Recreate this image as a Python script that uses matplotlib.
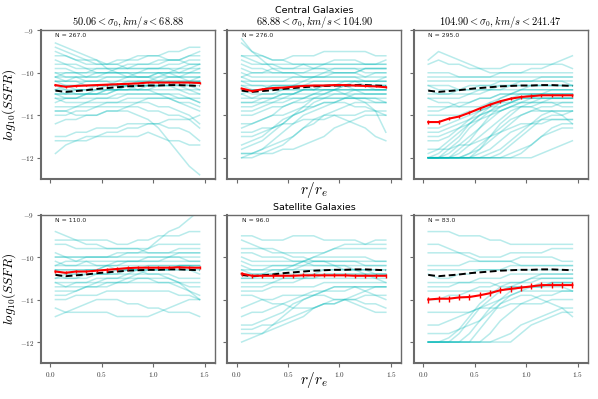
import matplotlib
matplotlib.use("Agg")
import matplotlib.pyplot as plt
import numpy as np

plt.rcParams['mathtext.fontset'] = 'cm'

r_bins = [0.05, 0.15, 0.25, 0.35, 0.45, 0.55, 0.65, 0.75, 0.85, 0.95, 1.05, 1.15, 1.25, 1.35, 1.45]

col_titles = [r'$50.06 < \sigma_0, km/s < 68.88$',
              r'$68.88 < \sigma_0, km/s < 104.90$',
              r'$104.90 < \sigma_0, km/s < 241.47$']
row_titles = ['Central Galaxies', 'Satellite Galaxies']
n_counts = [[267.0, 276.0, 295.0], [110.0, 96.0, 83.0]]

x_ticks = [0.0, 0.5, 1.0, 1.5]
x_ticklabels = [r'$0.0$', r'$0.5$', r'$1.0$', r'$1.5$']
y_ticks = [-12, -11, -10, -9]
y_ticklabels = [r'$-12$', r'$-11$', r'$-10$', r'$-9$']

# reference (whole sample) median profile, dashed black
ref_profile = [-10.42, -10.45, -10.43, -10.41, -10.38, -10.36, -10.34, -10.32,
               -10.31, -10.30, -10.30, -10.29, -10.29, -10.30, -10.31]

# median profiles of each bin (red) and their errors
median_cen_low = [-10.29, -10.33, -10.31, -10.30, -10.29, -10.28, -10.27, -10.26,
                  -10.25, -10.23, -10.23, -10.23, -10.23, -10.23, -10.24]
median_cen_mid = [-10.37, -10.43, -10.39, -10.36, -10.35, -10.33, -10.31, -10.30,
                  -10.30, -10.29, -10.29, -10.30, -10.31, -10.32, -10.34]
median_cen_high = [-11.16, -11.16, -11.08, -11.03, -10.94, -10.84, -10.75, -10.67,
                   -10.61, -10.57, -10.55, -10.53, -10.53, -10.53, -10.53]
median_sat_low = [-10.34, -10.37, -10.34, -10.34, -10.32, -10.30, -10.28, -10.26,
                  -10.25, -10.25, -10.25, -10.25, -10.24, -10.25, -10.25]
median_sat_mid = [-10.39, -10.44, -10.44, -10.44, -10.44, -10.44, -10.43, -10.43,
                  -10.43, -10.43, -10.43, -10.44, -10.44, -10.44, -10.44]
median_sat_high = [-11.00, -10.98, -10.98, -10.95, -10.94, -10.90, -10.85, -10.78,
                   -10.75, -10.72, -10.69, -10.66, -10.66, -10.66, -10.66]
err_cen_low = 0.02
err_cen_mid = 0.02
err_cen_high = 0.04
err_sat_low = 0.04
err_sat_mid = 0.05
err_sat_high = 0.07

# individual galaxy profiles (a representative subset)
prof_cen_low = [
    [-9.4, -9.5, -9.6, -9.7, -9.8, -9.8, -9.8, -9.7, -9.7, -9.6, -9.6, -9.5, -9.5, -9.4, -9.4],
    [-9.6, -9.6, -9.7, -9.7, -9.7, -9.8, -9.8, -9.9, -9.9, -9.9, -9.9, -9.8, -9.8, -9.7, -9.7],
    [-9.8, -9.8, -9.9, -9.9, -10.0, -10.0, -10.0, -10.0, -10.0, -9.9, -9.9, -9.9, -9.9, -9.8, -9.8],
    [-10.0, -10.0, -10.0, -10.1, -10.1, -10.1, -10.1, -10.1, -10.0, -10.0, -10.0, -10.0, -10.1, -10.1, -10.1],
    [-10.1, -10.2, -10.2, -10.2, -10.2, -10.1, -10.1, -10.1, -10.1, -10.1, -10.1, -10.0, -10.0, -10.0, -9.9],
    [-10.2, -10.3, -10.3, -10.3, -10.3, -10.3, -10.2, -10.2, -10.2, -10.2, -10.2, -10.2, -10.2, -10.2, -10.2],
    [-10.3, -10.4, -10.4, -10.4, -10.3, -10.3, -10.3, -10.3, -10.3, -10.3, -10.2, -10.2, -10.2, -10.3, -10.3],
    [-10.4, -10.5, -10.5, -10.5, -10.4, -10.4, -10.4, -10.3, -10.3, -10.3, -10.3, -10.3, -10.4, -10.4, -10.5],
    [-10.5, -10.6, -10.6, -10.5, -10.5, -10.5, -10.4, -10.4, -10.4, -10.4, -10.4, -10.4, -10.4, -10.5, -10.5],
    [-10.6, -10.7, -10.7, -10.7, -10.6, -10.6, -10.6, -10.5, -10.5, -10.5, -10.5, -10.6, -10.6, -10.6, -10.7],
    [-10.8, -10.8, -10.8, -10.7, -10.7, -10.7, -10.7, -10.6, -10.6, -10.6, -10.6, -10.6, -10.7, -10.8, -10.9],
    [-11.0, -11.0, -10.9, -10.9, -10.8, -10.8, -10.8, -10.8, -10.7, -10.7, -10.8, -10.8, -10.9, -11.0, -11.2],
    [-11.5, -11.5, -11.4, -11.4, -11.3, -11.3, -11.3, -11.2, -11.2, -11.2, -11.2, -11.1, -11.1, -11.1, -11.0],
    [-11.9, -11.7, -11.6, -11.5, -11.5, -11.4, -11.4, -11.3, -11.3, -11.2, -11.2, -11.3, -11.3, -11.4, -11.6],
    [-11.6, -11.6, -11.6, -11.6, -11.5, -11.5, -11.5, -11.5, -11.5, -11.4, -11.5, -11.6, -11.6, -11.7, -11.7],
    [-10.9, -10.9, -11.0, -11.0, -11.0, -10.9, -10.9, -10.9, -11.0, -11.1, -11.3, -11.6, -11.9, -12.2, -12.4],
    [-9.3, -9.4, -9.5, -9.6, -9.7, -9.9, -10.0, -10.1, -10.1, -10.1, -10.0, -10.0, -9.9, -9.9, -9.8],
    [-10.1, -10.0, -10.0, -10.0, -9.9, -9.9, -9.9, -9.9, -9.8, -9.8, -9.8, -9.7, -9.7, -9.6, -9.6],
    [-10.4, -10.3, -10.3, -10.2, -10.2, -10.2, -10.3, -10.3, -10.4, -10.4, -10.5, -10.5, -10.6, -10.6, -10.7],
    [-10.7, -10.6, -10.6, -10.5, -10.5, -10.4, -10.4, -10.4, -10.3, -10.3, -10.3, -10.2, -10.2, -10.2, -10.1],
    [-10.2, -10.2, -10.1, -10.1, -10.0, -10.0, -10.0, -10.0, -10.1, -10.1, -10.2, -10.2, -10.3, -10.3, -10.4],
    [-10.5, -10.5, -10.4, -10.4, -10.4, -10.3, -10.3, -10.2, -10.2, -10.2, -10.1, -10.1, -10.1, -10.0, -10.0],
    [-11.2, -11.1, -11.1, -11.0, -11.0, -10.9, -10.9, -10.8, -10.8, -10.9, -10.9, -11.0, -11.0, -11.1, -11.3],
    [-9.7, -9.8, -9.8, -9.9, -9.9, -9.9, -9.9, -9.8, -9.8, -9.8, -9.7, -9.7, -9.7, -9.6, -9.5],
    [-9.9, -9.9, -10.0, -10.0, -10.0, -10.0, -9.9, -9.9, -9.9, -9.9, -9.9, -9.9, -10.0, -10.0, -10.0],
    [-10.0, -10.1, -10.1, -10.2, -10.2, -10.2, -10.2, -10.1, -10.1, -10.1, -10.0, -10.0, -10.0, -9.9, -9.9],
    [-10.2, -10.2, -10.2, -10.3, -10.3, -10.3, -10.3, -10.3, -10.2, -10.2, -10.2, -10.1, -10.1, -10.1, -10.1],
    [-10.3, -10.3, -10.4, -10.4, -10.4, -10.4, -10.4, -10.3, -10.3, -10.3, -10.3, -10.3, -10.3, -10.4, -10.4],
    [-10.5, -10.5, -10.5, -10.5, -10.5, -10.4, -10.4, -10.4, -10.4, -10.3, -10.3, -10.3, -10.3, -10.3, -10.2],
    [-10.6, -10.6, -10.6, -10.6, -10.6, -10.6, -10.5, -10.5, -10.5, -10.5, -10.5, -10.5, -10.5, -10.6, -10.6],
    [-9.5, -9.6, -9.7, -9.8, -9.8, -9.8, -9.7, -9.7, -9.6, -9.6, -9.6, -9.7, -9.7, -9.8, -9.8],
    [-10.9, -10.9, -10.8, -10.8, -10.8, -10.7, -10.7, -10.7, -10.7, -10.6, -10.6, -10.6, -10.7, -10.7, -10.8],
    [-10.1, -10.1, -10.1, -10.1, -10.1, -10.0, -10.0, -10.0, -10.0, -10.0, -10.0, -10.1, -10.1, -10.2, -10.2],
    [-10.4, -10.4, -10.5, -10.5, -10.5, -10.5, -10.4, -10.4, -10.4, -10.4, -10.3, -10.3, -10.2, -10.2, -10.2],
]
prof_cen_mid = [
    [-9.3, -9.5, -9.6, -9.7, -9.7, -9.6, -9.6, -9.6, -9.5, -9.5, -9.5, -9.5, -9.5, -9.6, -9.6],
    [-9.6, -9.7, -9.8, -9.8, -9.8, -9.8, -9.8, -9.8, -9.8, -9.7, -9.7, -9.7, -9.8, -9.8, -9.8],
    [-9.8, -9.9, -9.9, -10.0, -10.0, -10.0, -10.0, -9.9, -9.9, -9.9, -9.9, -9.9, -10.0, -10.0, -10.0],
    [-10.0, -10.1, -10.1, -10.1, -10.1, -10.1, -10.1, -10.1, -10.0, -10.0, -10.0, -10.0, -10.1, -10.1, -10.1],
    [-10.2, -10.2, -10.2, -10.2, -10.2, -10.2, -10.2, -10.1, -10.1, -10.1, -10.1, -10.1, -10.2, -10.2, -10.2],
    [-10.3, -10.4, -10.4, -10.3, -10.3, -10.3, -10.3, -10.2, -10.2, -10.2, -10.2, -10.2, -10.3, -10.3, -10.3],
    [-10.4, -10.5, -10.5, -10.5, -10.4, -10.4, -10.4, -10.3, -10.3, -10.3, -10.3, -10.4, -10.4, -10.4, -10.4],
    [-10.6, -10.6, -10.6, -10.6, -10.5, -10.5, -10.5, -10.5, -10.4, -10.4, -10.4, -10.4, -10.5, -10.5, -10.5],
    [-10.8, -10.8, -10.7, -10.7, -10.7, -10.6, -10.6, -10.6, -10.6, -10.6, -10.6, -10.6, -10.6, -10.6, -10.7],
    [-11.5, -11.5, -11.4, -11.3, -11.1, -11.0, -10.9, -10.8, -10.7, -10.7, -10.6, -10.6, -10.6, -10.6, -10.6],
    [-11.9, -11.9, -11.8, -11.7, -11.6, -11.5, -11.3, -11.1, -11.0, -10.9, -10.8, -10.7, -10.7, -10.7, -10.7],
    [-12.0, -12.0, -11.9, -11.9, -11.8, -11.8, -11.7, -11.6, -11.5, -11.3, -11.2, -11.1, -11.0, -11.0, -11.0],
    [-11.2, -11.2, -11.1, -11.0, -11.0, -10.9, -10.8, -10.8, -10.7, -10.7, -10.7, -10.8, -10.8, -10.9, -11.0],
    [-11.7, -11.6, -11.5, -11.3, -11.2, -11.0, -10.8, -10.6, -10.5, -10.4, -10.3, -10.3, -10.3, -10.3, -10.3],
    [-11.9, -11.9, -11.9, -11.8, -11.7, -11.5, -11.3, -11.2, -11.0, -11.0, -11.1, -11.2, -11.3, -11.5, -11.6],
    [-9.2, -9.5, -9.7, -9.9, -10.0, -10.0, -10.1, -10.1, -10.1, -10.0, -10.0, -10.0, -9.9, -9.9, -9.9],
    [-10.1, -10.0, -10.0, -9.9, -9.9, -9.9, -9.8, -9.8, -9.8, -9.8, -9.8, -9.8, -9.8, -9.8, -9.7],
    [-10.5, -10.4, -10.4, -10.3, -10.3, -10.3, -10.3, -10.4, -10.4, -10.4, -10.5, -10.6, -10.7, -10.9, -11.4],
    [-10.9, -10.9, -10.8, -10.7, -10.6, -10.5, -10.4, -10.4, -10.3, -10.3, -10.2, -10.2, -10.2, -10.2, -10.2],
    [-11.4, -11.4, -11.3, -11.3, -11.2, -11.2, -11.1, -11.1, -11.1, -11.0, -11.0, -11.0, -10.9, -10.9, -10.9],
    [-12.0, -11.9, -11.8, -11.6, -11.4, -11.2, -11.0, -10.9, -10.8, -10.7, -10.6, -10.5, -10.5, -10.5, -10.5],
    [-10.2, -10.3, -10.3, -10.4, -10.4, -10.4, -10.4, -10.4, -10.3, -10.3, -10.3, -10.2, -10.2, -10.2, -10.1],
    [-9.6, -9.6, -9.6, -9.7, -9.7, -9.8, -9.8, -9.9, -9.9, -10.0, -10.0, -10.0, -9.9, -9.9, -9.9],
    [-10.7, -10.7, -10.6, -10.6, -10.5, -10.5, -10.4, -10.4, -10.4, -10.4, -10.3, -10.3, -10.3, -10.3, -10.3],
    [-9.9, -10.0, -10.0, -10.0, -10.0, -10.0, -10.0, -10.0, -10.0, -9.9, -9.9, -9.9, -9.9, -9.9, -9.9],
    [-10.1, -10.2, -10.2, -10.2, -10.2, -10.1, -10.1, -10.1, -10.1, -10.1, -10.1, -10.1, -10.1, -10.0, -10.0],
    [-10.3, -10.3, -10.3, -10.3, -10.3, -10.3, -10.2, -10.2, -10.2, -10.2, -10.2, -10.2, -10.2, -10.2, -10.2],
    [-10.4, -10.4, -10.4, -10.4, -10.4, -10.3, -10.3, -10.3, -10.3, -10.3, -10.3, -10.3, -10.3, -10.4, -10.4],
    [-10.5, -10.6, -10.5, -10.5, -10.5, -10.5, -10.4, -10.4, -10.4, -10.4, -10.4, -10.4, -10.4, -10.4, -10.4],
    [-10.7, -10.7, -10.7, -10.6, -10.6, -10.6, -10.6, -10.5, -10.5, -10.5, -10.5, -10.5, -10.5, -10.5, -10.5],
    [-11.8, -11.7, -11.6, -11.4, -11.2, -11.0, -10.9, -10.7, -10.6, -10.5, -10.5, -10.4, -10.4, -10.4, -10.4],
    [-11.3, -11.2, -11.1, -11.0, -10.8, -10.7, -10.6, -10.5, -10.5, -10.4, -10.4, -10.4, -10.4, -10.4, -10.4],
    [-9.7, -9.8, -9.8, -9.8, -9.9, -9.9, -9.9, -9.9, -9.8, -9.8, -9.8, -9.8, -9.8, -9.8, -9.8],
    [-11.0, -11.0, -10.9, -10.8, -10.8, -10.7, -10.7, -10.6, -10.6, -10.6, -10.6, -10.6, -10.6, -10.7, -10.7],
]
prof_cen_high = [
    [-9.8, -9.7, -9.8, -9.8, -9.9, -9.9, -9.9, -9.9, -9.8, -9.8, -9.8, -9.8, -9.8, -9.8, -9.9],
    [-10.0, -10.0, -10.0, -10.1, -10.1, -10.1, -10.1, -10.0, -10.0, -10.0, -10.0, -10.0, -10.0, -10.0, -10.0],
    [-10.2, -10.2, -10.2, -10.2, -10.2, -10.2, -10.2, -10.2, -10.2, -10.2, -10.2, -10.2, -10.2, -10.2, -10.2],
    [-10.4, -10.5, -10.5, -10.4, -10.4, -10.3, -10.3, -10.3, -10.3, -10.3, -10.3, -10.3, -10.3, -10.3, -10.3],
    [-10.6, -10.6, -10.6, -10.6, -10.5, -10.5, -10.4, -10.4, -10.4, -10.4, -10.4, -10.4, -10.4, -10.4, -10.4],
    [-10.9, -10.9, -10.8, -10.8, -10.7, -10.6, -10.6, -10.5, -10.5, -10.5, -10.5, -10.5, -10.5, -10.5, -10.5],
    [-11.3, -11.3, -11.2, -11.1, -11.0, -10.9, -10.8, -10.7, -10.6, -10.6, -10.6, -10.6, -10.6, -10.6, -10.6],
    [-12.0, -12.0, -11.9, -11.7, -11.5, -11.3, -11.1, -10.9, -10.8, -10.7, -10.6, -10.6, -10.6, -10.6, -10.6],
    [-12.0, -12.0, -12.0, -12.0, -11.9, -11.8, -11.6, -11.4, -11.2, -11.0, -10.9, -10.8, -10.8, -10.7, -10.7],
    [-12.0, -12.0, -12.0, -12.0, -12.0, -12.0, -11.9, -11.8, -11.6, -11.4, -11.2, -11.0, -10.9, -10.9, -10.9],
    [-12.0, -12.0, -12.0, -12.0, -12.0, -12.0, -12.0, -12.0, -11.9, -11.8, -11.7, -11.5, -11.4, -11.3, -11.3],
    [-12.0, -12.0, -11.8, -11.6, -11.3, -11.1, -10.9, -10.7, -10.6, -10.5, -10.5, -10.5, -10.4, -10.4, -10.4],
    [-11.6, -11.6, -11.5, -11.3, -11.1, -10.9, -10.7, -10.6, -10.5, -10.4, -10.4, -10.4, -10.4, -10.4, -10.4],
    [-12.0, -12.0, -12.0, -11.9, -11.7, -11.5, -11.3, -11.1, -10.9, -10.8, -10.8, -10.7, -10.7, -10.7, -10.7],
    [-11.8, -11.8, -11.8, -11.7, -11.7, -11.6, -11.5, -11.4, -11.3, -11.2, -11.2, -11.1, -11.1, -11.1, -11.1],
    [-12.0, -12.0, -12.0, -12.0, -12.0, -12.0, -12.0, -12.0, -12.0, -12.0, -12.0, -11.9, -11.8, -11.7, -11.6],
    [-9.7, -9.5, -9.6, -9.7, -9.8, -9.9, -10.0, -10.0, -10.0, -10.0, -9.9, -9.9, -9.8, -9.7, -9.6],
    [-10.3, -10.3, -10.3, -10.4, -10.4, -10.4, -10.4, -10.3, -10.3, -10.2, -10.2, -10.1, -10.1, -10.1, -10.1],
    [-11.0, -11.0, -11.0, -11.0, -10.9, -10.9, -10.8, -10.8, -10.7, -10.7, -10.7, -10.7, -10.7, -10.8, -10.8],
    [-12.0, -12.0, -12.0, -12.0, -11.9, -11.7, -11.5, -11.3, -11.1, -11.0, -10.9, -10.9, -10.9, -10.9, -10.9],
    [-12.0, -12.0, -12.0, -12.0, -12.0, -11.9, -11.8, -11.6, -11.4, -11.3, -11.2, -11.2, -11.1, -11.1, -11.1],
    [-11.4, -11.4, -11.3, -11.2, -11.1, -11.0, -10.9, -10.9, -10.8, -10.8, -10.8, -10.9, -10.9, -11.0, -11.2],
    [-12.0, -11.9, -11.7, -11.5, -11.2, -11.0, -10.8, -10.6, -10.5, -10.4, -10.3, -10.3, -10.3, -10.3, -10.3],
    [-10.6, -10.7, -10.7, -10.8, -10.8, -10.8, -10.7, -10.7, -10.7, -10.6, -10.6, -10.6, -10.6, -10.6, -10.6],
    [-10.1, -10.1, -10.1, -10.1, -10.1, -10.1, -10.1, -10.1, -10.1, -10.1, -10.1, -10.1, -10.1, -10.1, -10.1],
    [-10.3, -10.4, -10.4, -10.4, -10.3, -10.3, -10.3, -10.2, -10.2, -10.2, -10.2, -10.2, -10.2, -10.2, -10.3],
    [-10.5, -10.5, -10.5, -10.5, -10.5, -10.4, -10.4, -10.4, -10.3, -10.3, -10.3, -10.3, -10.3, -10.3, -10.3],
    [-12.0, -12.0, -12.0, -11.8, -11.6, -11.3, -11.0, -10.8, -10.7, -10.6, -10.5, -10.5, -10.5, -10.5, -10.5],
    [-12.0, -12.0, -12.0, -12.0, -12.0, -11.8, -11.5, -11.2, -11.0, -10.8, -10.7, -10.6, -10.6, -10.6, -10.6],
    [-12.0, -12.0, -12.0, -12.0, -12.0, -12.0, -12.0, -11.9, -11.7, -11.5, -11.3, -11.1, -11.0, -11.0, -10.9],
    [-11.9, -11.8, -11.6, -11.4, -11.2, -11.0, -10.9, -10.8, -10.7, -10.6, -10.6, -10.5, -10.5, -10.5, -10.5],
    [-11.5, -11.5, -11.4, -11.3, -11.2, -11.1, -11.0, -10.9, -10.8, -10.7, -10.7, -10.7, -10.6, -10.6, -10.6],
    [-12.0, -12.0, -12.0, -12.0, -12.0, -12.0, -12.0, -12.0, -12.0, -11.9, -11.7, -11.5, -11.3, -11.2, -11.2],
    [-10.8, -10.8, -10.8, -10.7, -10.7, -10.6, -10.6, -10.5, -10.5, -10.5, -10.5, -10.5, -10.5, -10.5, -10.5],
]
prof_sat_low = [
    [-9.4, -9.5, -9.6, -9.6, -9.6, -9.6, -9.7, -9.7, -9.6, -9.6, -9.5, -9.5, -9.5, -9.4, -9.4],
    [-9.7, -9.7, -9.8, -9.8, -9.8, -9.8, -9.8, -9.8, -9.8, -9.8, -9.7, -9.7, -9.7, -9.7, -9.7],
    [-9.9, -10.0, -10.0, -10.0, -10.0, -10.0, -9.9, -9.9, -9.9, -9.9, -9.9, -9.9, -9.9, -9.9, -9.9],
    [-10.1, -10.2, -10.2, -10.1, -10.1, -10.1, -10.1, -10.1, -10.1, -10.1, -10.1, -10.1, -10.1, -10.1, -10.1],
    [-10.3, -10.3, -10.3, -10.3, -10.3, -10.2, -10.2, -10.2, -10.2, -10.2, -10.2, -10.2, -10.2, -10.2, -10.2],
    [-10.4, -10.5, -10.5, -10.4, -10.4, -10.4, -10.3, -10.3, -10.3, -10.3, -10.3, -10.3, -10.3, -10.3, -10.4],
    [-10.6, -10.6, -10.6, -10.6, -10.5, -10.5, -10.5, -10.5, -10.4, -10.4, -10.4, -10.4, -10.5, -10.5, -10.5],
    [-10.8, -10.8, -10.8, -10.7, -10.7, -10.7, -10.6, -10.6, -10.6, -10.6, -10.6, -10.6, -10.6, -10.7, -10.7],
    [-11.0, -11.0, -10.9, -10.9, -10.9, -10.8, -10.8, -10.8, -10.8, -10.8, -10.8, -10.8, -10.9, -10.9, -11.0],
    [-11.4, -11.3, -11.2, -11.1, -11.0, -11.0, -11.0, -11.1, -11.1, -11.2, -11.2, -11.3, -11.3, -11.3, -11.4],
    [-11.2, -11.3, -11.3, -11.3, -11.3, -11.3, -11.4, -11.4, -11.4, -11.4, -11.3, -11.2, -11.1, -11.0, -11.0],
    [-10.2, -10.1, -10.1, -10.0, -10.0, -10.0, -10.0, -9.9, -9.9, -9.8, -9.6, -9.4, -9.3, -9.1, -8.9],
    [-10.5, -10.4, -10.4, -10.3, -10.3, -10.2, -10.2, -10.1, -10.1, -10.0, -10.0, -10.0, -9.9, -9.9, -9.9],
    [-10.0, -10.0, -10.1, -10.1, -10.2, -10.2, -10.3, -10.3, -10.3, -10.4, -10.4, -10.5, -10.6, -10.8, -11.0],
    [-10.7, -10.7, -10.6, -10.6, -10.6, -10.5, -10.5, -10.4, -10.4, -10.3, -10.3, -10.3, -10.2, -10.2, -10.2],
    [-9.6, -9.6, -9.6, -9.7, -9.7, -9.8, -9.8, -9.8, -9.8, -9.9, -9.9, -9.9, -9.8, -9.8, -9.8],
    [-10.9, -10.9, -10.8, -10.7, -10.7, -10.6, -10.6, -10.6, -10.5, -10.5, -10.6, -10.6, -10.7, -10.8, -10.9],
    [-10.3, -10.4, -10.4, -10.4, -10.4, -10.4, -10.4, -10.3, -10.3, -10.3, -10.3, -10.3, -10.2, -10.2, -10.2],
    [-10.2, -10.2, -10.2, -10.2, -10.2, -10.2, -10.1, -10.1, -10.1, -10.1, -10.1, -10.0, -10.0, -10.0, -10.0],
    [-10.5, -10.5, -10.5, -10.5, -10.4, -10.4, -10.4, -10.4, -10.3, -10.3, -10.3, -10.3, -10.3, -10.3, -10.3],
    [-10.0, -10.0, -10.0, -10.0, -10.0, -10.0, -10.0, -10.0, -10.0, -10.0, -10.0, -10.0, -10.0, -10.1, -10.1],
    [-10.6, -10.7, -10.7, -10.7, -10.6, -10.6, -10.6, -10.5, -10.5, -10.5, -10.5, -10.5, -10.6, -10.6, -10.6],
    [-10.3, -10.3, -10.3, -10.3, -10.3, -10.3, -10.3, -10.3, -10.3, -10.2, -10.2, -10.2, -10.2, -10.2, -10.3],
]
prof_sat_mid = [
    [-9.5, -9.5, -9.6, -9.6, -9.6, -9.5, -9.5, -9.5, -9.6, -9.6, -9.6, -9.6, -9.7, -9.7, -9.7],
    [-9.8, -9.8, -9.8, -9.9, -9.9, -9.9, -9.9, -9.9, -9.9, -9.8, -9.8, -9.8, -9.8, -9.8, -9.8],
    [-10.0, -10.1, -10.1, -10.1, -10.1, -10.1, -10.1, -10.0, -10.0, -10.0, -10.0, -10.0, -10.0, -10.1, -10.1],
    [-10.2, -10.3, -10.3, -10.3, -10.3, -10.3, -10.2, -10.2, -10.2, -10.2, -10.2, -10.2, -10.2, -10.2, -10.2],
    [-10.4, -10.4, -10.4, -10.4, -10.4, -10.4, -10.4, -10.4, -10.3, -10.3, -10.3, -10.3, -10.3, -10.3, -10.3],
    [-10.6, -10.6, -10.6, -10.6, -10.5, -10.5, -10.5, -10.5, -10.5, -10.5, -10.5, -10.5, -10.5, -10.5, -10.5],
    [-10.8, -10.8, -10.8, -10.7, -10.7, -10.7, -10.7, -10.7, -10.6, -10.6, -10.6, -10.6, -10.6, -10.6, -10.6],
    [-11.6, -11.6, -11.5, -11.4, -11.3, -11.1, -11.0, -10.9, -10.8, -10.8, -10.8, -10.7, -10.7, -10.7, -10.7],
    [-11.8, -11.8, -11.8, -11.7, -11.6, -11.5, -11.4, -11.2, -11.1, -11.0, -11.0, -11.0, -11.1, -11.1, -11.2],
    [-11.2, -11.1, -11.0, -11.0, -10.9, -10.9, -10.9, -10.9, -10.9, -11.0, -11.0, -11.1, -11.2, -11.3, -11.3],
    [-9.6, -9.7, -9.8, -9.8, -9.9, -10.0, -10.0, -10.1, -10.1, -10.2, -10.2, -10.3, -10.4, -10.5, -10.6],
    [-10.5, -10.5, -10.4, -10.4, -10.3, -10.2, -10.1, -10.0, -9.9, -9.8, -9.7, -9.7, -9.7, -9.6, -9.6],
    [-11.7, -11.7, -11.6, -11.6, -11.5, -11.4, -11.3, -11.2, -11.1, -11.1, -11.0, -11.0, -10.9, -10.9, -10.9],
    [-10.9, -10.9, -11.0, -11.1, -11.1, -11.2, -11.2, -11.2, -11.1, -11.1, -11.0, -10.9, -10.8, -10.7, -10.7],
    [-10.3, -10.3, -10.3, -10.2, -10.2, -10.2, -10.1, -10.1, -10.1, -10.1, -10.1, -10.1, -10.2, -10.2, -10.2],
    [-9.9, -9.9, -10.0, -10.0, -10.0, -10.1, -10.1, -10.2, -10.2, -10.2, -10.3, -10.3, -10.3, -10.4, -10.4],
    [-10.7, -10.7, -10.7, -10.6, -10.6, -10.6, -10.5, -10.5, -10.4, -10.4, -10.4, -10.4, -10.4, -10.4, -10.4],
    [-11.4, -11.3, -11.3, -11.2, -11.1, -11.0, -10.9, -10.8, -10.8, -10.7, -10.7, -10.7, -10.8, -10.9, -11.0],
    [-10.1, -10.2, -10.2, -10.2, -10.2, -10.2, -10.2, -10.1, -10.1, -10.1, -10.1, -10.1, -10.1, -10.1, -10.1],
    [-10.5, -10.5, -10.5, -10.5, -10.5, -10.5, -10.5, -10.4, -10.4, -10.4, -10.4, -10.4, -10.4, -10.4, -10.4],
    [-10.3, -10.4, -10.4, -10.3, -10.3, -10.3, -10.3, -10.3, -10.3, -10.3, -10.3, -10.3, -10.3, -10.3, -10.3],
    [-12.0, -11.9, -11.8, -11.6, -11.4, -11.2, -11.0, -10.9, -10.8, -10.7, -10.7, -10.7, -10.7, -10.7, -10.7],
]
prof_sat_high = [
    [-9.4, -9.4, -9.4, -9.5, -9.5, -9.5, -9.6, -9.6, -9.7, -9.7, -9.7, -9.7, -9.7, -9.7, -9.7],
    [-9.9, -9.9, -9.9, -9.9, -9.9, -10.0, -10.0, -10.0, -9.9, -9.9, -9.9, -9.9, -9.8, -9.8, -9.8],
    [-10.2, -10.2, -10.2, -10.2, -10.1, -10.1, -10.1, -10.1, -10.1, -10.0, -10.0, -10.0, -10.0, -10.1, -10.1],
    [-10.4, -10.5, -10.5, -10.4, -10.4, -10.3, -10.3, -10.3, -10.3, -10.3, -10.3, -10.3, -10.3, -10.3, -10.3],
    [-10.7, -10.7, -10.7, -10.6, -10.6, -10.5, -10.5, -10.5, -10.4, -10.4, -10.4, -10.4, -10.4, -10.4, -10.4],
    [-11.0, -11.0, -10.9, -10.9, -10.8, -10.7, -10.7, -10.6, -10.6, -10.6, -10.6, -10.5, -10.5, -10.5, -10.5],
    [-12.0, -12.0, -11.9, -11.7, -11.4, -11.1, -10.9, -10.7, -10.6, -10.6, -10.5, -10.5, -10.5, -10.5, -10.5],
    [-12.0, -12.0, -12.0, -12.0, -11.8, -11.5, -11.2, -11.0, -10.8, -10.7, -10.7, -10.6, -10.6, -10.6, -10.6],
    [-12.0, -12.0, -12.0, -12.0, -12.0, -12.0, -11.8, -11.5, -11.3, -11.1, -11.0, -10.9, -10.9, -10.8, -10.8],
    [-12.0, -12.0, -12.0, -12.0, -12.0, -12.0, -12.0, -11.9, -11.8, -11.6, -11.5, -11.4, -11.3, -11.2, -11.2],
    [-11.6, -11.6, -11.5, -11.4, -11.3, -11.2, -11.1, -11.0, -10.9, -10.8, -10.8, -10.8, -10.8, -10.8, -10.8],
    [-11.3, -11.3, -11.3, -11.3, -11.3, -11.2, -11.2, -11.2, -11.1, -11.1, -11.1, -11.1, -11.0, -11.0, -11.0],
    [-11.8, -11.8, -11.8, -11.7, -11.6, -11.5, -11.3, -11.1, -11.0, -10.9, -10.9, -11.0, -11.1, -11.2, -11.4],
    [-9.7, -9.7, -9.8, -9.9, -10.0, -10.1, -10.1, -10.1, -10.1, -10.2, -10.2, -10.2, -10.2, -10.2, -10.2],
    [-10.6, -10.6, -10.6, -10.6, -10.6, -10.6, -10.6, -10.7, -10.7, -10.7, -10.7, -10.7, -10.7, -10.7, -10.8],
    [-12.0, -12.0, -12.0, -11.8, -11.5, -11.2, -11.0, -10.8, -10.7, -10.6, -10.5, -10.4, -10.4, -10.4, -10.4],
    [-10.3, -10.3, -10.3, -10.3, -10.3, -10.3, -10.3, -10.3, -10.2, -10.2, -10.2, -10.2, -10.2, -10.2, -10.2],
    [-12.0, -12.0, -12.0, -12.0, -12.0, -11.7, -11.4, -11.1, -10.9, -10.8, -10.7, -10.7, -10.6, -10.6, -10.6],
    [-10.8, -10.8, -10.8, -10.8, -10.8, -10.8, -10.8, -10.8, -10.7, -10.7, -10.7, -10.7, -10.6, -10.6, -10.6],
    [-12.0, -12.0, -12.0, -12.0, -12.0, -12.0, -12.0, -12.0, -12.0, -11.8, -11.6, -11.5, -11.4, -11.3, -11.3],
]

profiles = [[prof_cen_low, prof_cen_mid, prof_cen_high],
            [prof_sat_low, prof_sat_mid, prof_sat_high]]
medians = [[median_cen_low, median_cen_mid, median_cen_high],
           [median_sat_low, median_sat_mid, median_sat_high]]
errors = [[err_cen_low, err_cen_mid, err_cen_high],
          [err_sat_low, err_sat_mid, err_sat_high]]

fig = plt.figure(figsize=(5.98, 3.99), dpi=100)
lefts = [0.0686, 0.380, 0.692]
bottoms = [0.5514, 0.0895]
w, h = 0.291, 0.3727
spine_col = '#6a6a6a'

for i in range(2):
    for j in range(3):
        ax = fig.add_axes([lefts[j], bottoms[i], w, h])
        for p in profiles[i][j]:
            ax.plot(r_bins, p, color='#00b8b8', alpha=0.28, lw=1.1, zorder=1)
        ax.plot(r_bins, ref_profile, color='black', ls=(0, (3.5, 1.8)), lw=1.4, zorder=3)
        ax.errorbar(r_bins, medians[i][j], yerr=errors[i][j], color='red', lw=1.5,
                    elinewidth=1.0, capsize=0, zorder=4)
        ax.set_xlim(-0.09, 1.6)
        ax.set_ylim(-12.5, -9)
        ax.set_xticks(x_ticks)
        ax.set_yticks(y_ticks)
        if i == 1:
            ax.set_xticklabels(x_ticklabels)
        else:
            ax.set_xticklabels([])
        if j == 0:
            ax.set_yticklabels(y_ticklabels)
        else:
            ax.set_yticklabels([])
        ax.tick_params(direction='out', length=3, width=0.8, colors=spine_col,
                       labelsize=5.2, labelcolor='#333333', pad=2)
        for side, sp in ax.spines.items():
            sp.set_color(spine_col)
            sp.set_linewidth(1.5 if side in ('left', 'bottom') else 1.0)
        ax.text(0.082, 0.962, 'N = %.1f' % n_counts[i][j], transform=ax.transAxes,
                fontsize=4.4, va='center', ha='left', color='#222222')
        if i == 0:
            ax.set_title(col_titles[j], fontsize=7.5, pad=3)
        if j == 1:
            ax.text(0.5, 1.135 if i == 0 else 1.05, row_titles[i],
                    transform=ax.transAxes, ha='center', va='center', fontsize=6.8)
            ax.set_xlabel(r'$r/r_e$', fontsize=11)
            ax.xaxis.set_label_coords(0.5, -0.01 if i == 0 else -0.045)
        if j == 0:
            ax.set_ylabel(r'$log_{10}(SSFR)$', fontsize=9.5)
            ax.yaxis.set_label_coords(-0.135, 0.5)

fig.savefig('out.png', dpi=100)
